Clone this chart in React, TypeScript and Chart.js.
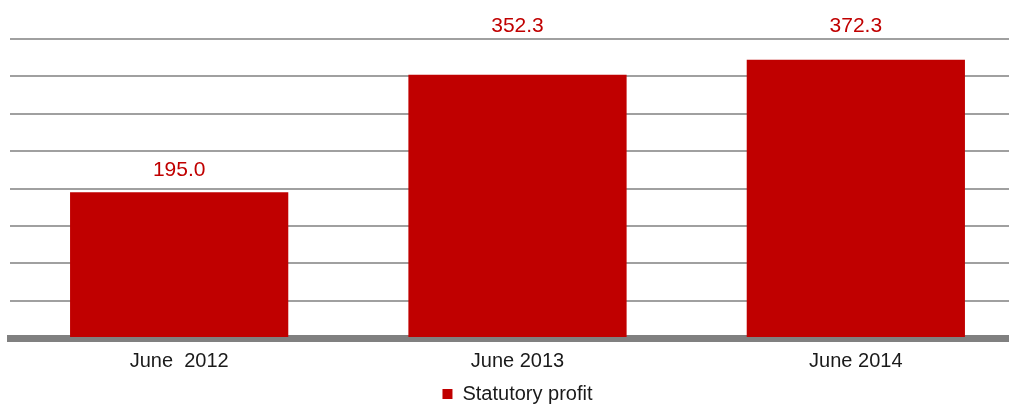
import React, { useEffect, useRef } from "react";
import { Chart, registerables } from "chart.js";

Chart.register(...registerables);

const categories = ["June  2012", "June 2013", "June 2014"];
const statutoryProfit = [195.0, 352.3, 372.3];
const seriesName = "Statutory profit";
const yMin = 0;
const yMax = 400;
const yStep = 50;

const RED = "#c00000";
const FONT = "'Liberation Sans', Arial, sans-serif";

const valueLabels = {
  id: "valueLabels",
  afterDatasetsDraw(chart: any) {
    const { ctx, chartArea } = chart;
    const meta = chart.getDatasetMeta(0);
    ctx.save();
    ctx.font = `21px ${FONT}`;
    ctx.fillStyle = RED;
    ctx.textAlign = "center";
    ctx.textBaseline = "alphabetic";
    meta.data.forEach((bar: any, i: number) => {
      const v = chart.data.datasets[0].data[i] as number;
      let y = bar.y - 16;
      if (y < 100) y = chartArea.top - 7;
      ctx.fillText(v.toFixed(1), bar.x, y);
    });
    ctx.restore();
  },
};

export default function App() {
  const ref = useRef<HTMLCanvasElement | null>(null);
  useEffect(() => {
    if (!ref.current) return;
    const chart = new Chart(ref.current, {
      type: "bar",
      data: {
        labels: categories,
        datasets: [
          {
            label: seriesName,
            data: statutoryProfit,
            backgroundColor: RED,
            borderWidth: 0,
            barPercentage: 0.645,
            categoryPercentage: 1,
          },
        ],
      },
      options: {
        animation: false,
        responsive: false,
        maintainAspectRatio: false,
        layout: { padding: { left: 10, right: 0, top: 39, bottom: 0 } },
        plugins: {
          tooltip: { enabled: false },
          legend: {
            position: "bottom",
            labels: {
              font: { family: FONT, size: 20 },
              color: "#1a1a1a",
              boxWidth: 10,
              boxHeight: 10,
              padding: 0,
            },
          },
        },
        scales: {
          x: {
            z: 1,
            grid: { display: false, drawTicks: false },
            border: { display: true, color: "#808080", width: 7 },
            ticks: {
              font: { family: FONT, size: 20, lineHeight: 0.9 },
              color: "#1a1a1a",
              padding: 14,
            },
          },
          y: {
            min: yMin,
            max: yMax,
            ticks: { stepSize: yStep, display: false },
            grid: { color: "#a0a0a0", lineWidth: 2, drawTicks: false },
            border: { display: false },
          },
        },
      },
      plugins: [valueLabels],
    });
    return () => chart.destroy();
  }, []);
  return (
    <div
      style={{
        position: "fixed",
        left: 0,
        top: 0,
        width: 1009,
        height: 405,
        overflow: "hidden",
        background: "#fff",
      }}
    >
      <canvas ref={ref} width={1025} height={414} style={{ display: "block" }} />
    </div>
  );
}
